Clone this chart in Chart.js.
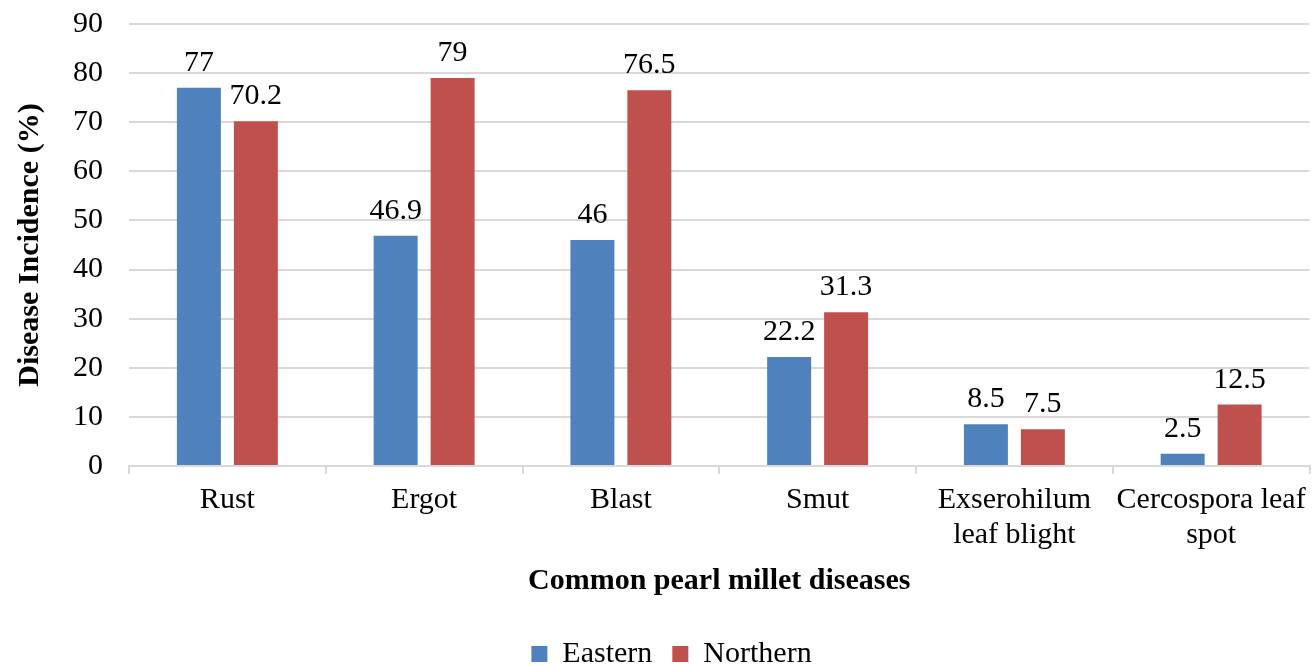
<!DOCTYPE html>
<html lang="en">
<head>
  <meta charset="UTF-8" />
  <title>Common pearl millet diseases</title>
  <script src="https://cdn.jsdelivr.net/npm/chart.js"></script>
  <style>
    html, body { margin: 0; padding: 0; background: #fff; }
    #wrap { position: relative; width: 1315px; height: 666px; }
  </style>
</head>
<body>
  <div id="wrap">
    <canvas id="diseaseChart"></canvas>
  </div>

  <script>
    // data
    const categories = ['Rust', 'Ergot', 'Blast', 'Smut', ['Exserohilum', 'leaf blight'], ['Cercospora leaf', 'spot']];
    const easternValues = [77, 46.9, 46, 22.2, 8.5, 2.5];
    const northernValues = [70.2, 79, 76.5, 31.3, 7.5, 12.5];
    const yTickValues = [0, 10, 20, 30, 40, 50, 60, 70, 80, 90];

    const serif = "'Liberation Serif', 'Times New Roman', serif";
    Chart.defaults.font.family = serif;
    Chart.defaults.color = '#000';

    // value labels above each bar
    const barValueLabels = {
      id: 'barValueLabels',
      afterDatasetsDraw(chart) {
        const ctx = chart.ctx;
        ctx.save();
        ctx.font = '30px ' + serif;
        ctx.fillStyle = '#000';
        ctx.textAlign = 'center';
        ctx.textBaseline = 'alphabetic';
        chart.data.datasets.forEach((ds, i) => {
          chart.getDatasetMeta(i).data.forEach((bar, j) => {
            ctx.fillText(String(ds.data[j]), bar.x, bar.y - 17);
          });
        });
        ctx.restore();
      }
    };

    // nudge the legend a bit to the right, like the original
    const legendNudge = {
      id: 'legendNudge',
      afterLayout(chart) {
        if (chart.legend) {
          chart.legend.left += 16;
          chart.legend.right += 16;
        }
      }
    };

    new Chart(document.getElementById('diseaseChart'), {
      type: 'bar',
      data: {
        labels: categories,
        datasets: [
          {
            label: 'Eastern',
            data: easternValues,
            backgroundColor: '#4f81bd'
          },
          {
            label: 'Northern',
            data: northernValues,
            backgroundColor: '#c0504d'
          }
        ]
      },
      options: {
        responsive: true,
        maintainAspectRatio: false,
        devicePixelRatio: 1,
        animation: false,
        categoryPercentage: 0.579,
        barPercentage: 0.772,
        layout: {
          padding: { top: 24, right: 4, left: 0, bottom: -13 }
        },
        plugins: {
          tooltip: { enabled: false },
          legend: {
            position: 'bottom',
            labels: {
              font: { size: 30 },
              boxWidth: 16,
              boxHeight: 16,
              padding: 20
            }
          }
        },
        scales: {
          x: {
            grid: {
              offset: true,
              drawOnChartArea: false,
              drawTicks: true,
              tickLength: 8,
              color: '#d9d9d9',
              lineWidth: 2
            },
            border: { color: '#d9d9d9', width: 2 },
            ticks: {
              font: { size: 30, lineHeight: 1.1667 },
              padding: 9,
              autoSkip: false,
              maxRotation: 0
            },
            title: {
              display: true,
              text: 'Common pearl millet diseases',
              font: { size: 30, weight: 'bold' },
              padding: { top: 0, bottom: 20 }
            },
            afterFit(scale) { scale.height = 153; }
          },
          y: {
            min: 0,
            max: 90,
            afterBuildTicks(scale) {
              scale.ticks = yTickValues.map(v => ({ value: v }));
            },
            grid: {
              drawTicks: true,
              tickLength: 26,
              tickColor: 'rgba(0,0,0,0)',
              color: '#d9d9d9',
              lineWidth: 2
            },
            border: { display: false },
            ticks: {
              font: { size: 30 },
              padding: 0
            },
            title: {
              display: true,
              text: 'Disease Incidence (%)',
              font: { size: 30, weight: 'bold' },
              padding: { top: 12, bottom: 0 }
            },
            afterFit(scale) { scale.width = 129; }
          }
        }
      },
      plugins: [barValueLabels, legendNudge]
    });
  </script>
</body>
</html>
